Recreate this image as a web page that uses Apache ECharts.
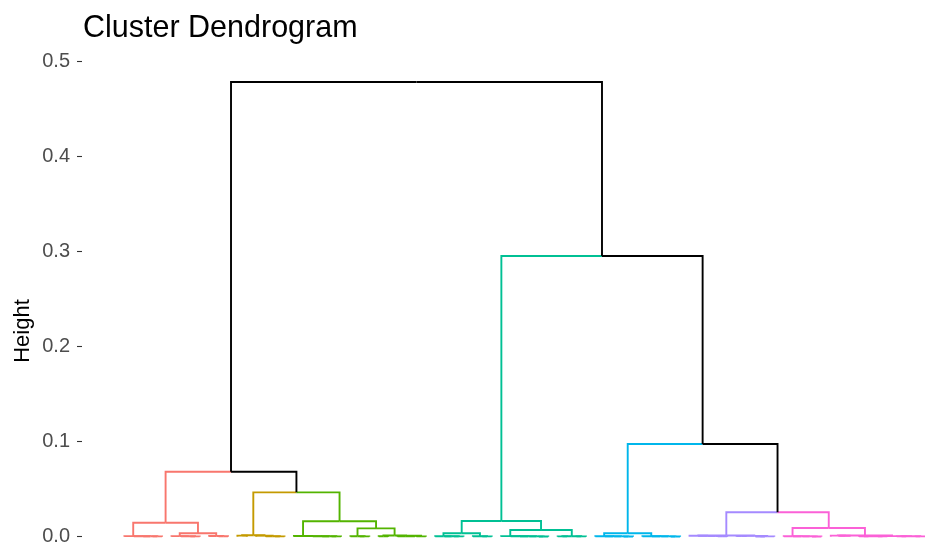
<!DOCTYPE html>
<html>
<head>
<meta charset="utf-8">
<script src="https://cdn.jsdelivr.net/npm/echarts@6/dist/echarts.min.js"></script>
<style>
  html, body { margin: 0; padding: 0; background: #ffffff; }
  #chart { width: 925px; height: 545px; }
</style>
</head>
<body>
<div id="chart"></div>
<script>
// ---- Data: dendrogram nodes as [height, leftChild, rightChild]; null = leaf ----
const redTree = [0.0147,
  [0.0006, null, [0.0005, null, [0.0004, null, [0.0003, null, null]]]],
  [0.0036,
    [0.0006, null, [0.0004, null, [0.0003, null, null]]],
    [0.0008, null, [0.0005, null, null]]]];
const yellowTree = [0.0015,
  [0.0011, null, null],
  [0.0011, null, [0.0005, null, [0.0003, null, null]]]];
const greenTree = [0.0162,
  [0.0008, null, [0.0006, null, [0.0005, null, [0.0004, null, [0.0003, null, null]]]]],
  [0.0088,
    [0.0005, null, [0.0003, null, null]],
    [0.0013, [0.0004, null, null], [0.0004, null, [0.0010, null, [0.0003, null, null]]]]]];
const tealTree = [0.0165,
  [0.0036,
    [0.0005, null, [0.0004, null, [0.0003, null, null]]],
    [0.0005, null, [0.0003, null, null]]],
  [0.0070,
    [0.0006, null, [0.0005, null, [0.0004, null, [0.0003, null, [0.0002, null, null]]]]],
    [0.0005, [0.0003, null, null], [0.0003, null, null]]]];
const cyanTree = [0.0036,
  [0.0005, null, [0.0004, null, [0.0003, null, [0.0002, null, null]]]],
  [0.0005, null, [0.0004, null, [0.0003, null, [0.0002, null, null]]]]];
const purpleTree = [0.0012,
  [0.0010, null, [0.0009, null, [0.0008, null, [0.0003, null, null]]]],
  [0.0009, [0.0008, null, null], [0.0003, [0.0002, null, null], null]]];
const pinkTree = [0.0092,
  [0.0005, null, [0.0004, null, [0.0003, null, [0.0002, null, null]]]],
  [0.0012,
    [0.0011, null, [0.0010, null, null]],
    [0.0006,
      [0.0004, [0.0003, null, null], [0.0003, null, null]],
      [0.0004, [0.0003, null, null], [0.0003, null, null]]]]];

// top-level merges: numbers refer to cluster index in clusterTrees
const clusterTrees = [redTree, yellowTree, greenTree, tealTree, cyanTree, purpleTree, pinkTree];
const clusterColors = ['#F8766D', '#C49A00', '#53B400', '#00C094', '#00B6EB', '#A58AFF', '#FB61D7'];
const topTree = [0.4786,
  [0.0684, 0, [0.0467, 1, 2]],
  [0.2955, 3, [0.0976, 4, [0.0257, 5, 6]]]];
const yTicks = [0, 0.1, 0.2, 0.3, 0.4, 0.5];

// ---- Build segments (leaf order positions 1..n, node x = midpoint of children) ----
let leafCount = 0;
const segs = [];
function walk(node, color) {
  if (node === null) { leafCount += 1; return { x: leafCount, h: 0, color: color }; }
  if (typeof node === 'number') return walk(clusterTrees[node], node);
  const h = node[0];
  const kids = [walk(node[1], color), walk(node[2], color)];
  const x = (kids[0].x + kids[1].x) / 2;
  kids.forEach(k => segs.push([x, h, k.x, h, k.x, k.h, k.color]));
  return { x: x, h: h, color: color };
}
walk(topTree, -1);

const chart = echarts.init(document.getElementById('chart'), null, { renderer: 'canvas' });
const FONT = 'Liberation Sans, Arial, sans-serif';
chart.setOption({
  backgroundColor: '#ffffff',
  animation: false,
  title: {
    text: 'Cluster Dendrogram',
    left: 83, top: 13, padding: 0,
    textStyle: { fontFamily: FONT, fontSize: 30.5, fontWeight: 'normal', color: '#000000' }
  },
  grid: { left: 82, right: 0, top: 61.7, bottom: 8.3, containLabel: false, outerBoundsMode: 'none' },
  xAxis: { type: 'value', min: -3.5, max: 86, show: false },
  yAxis: {
    type: 'value', min: yTicks[0], max: yTicks[yTicks.length - 1], interval: 0.1,
    axisLine: { show: false, onZero: false },
    axisTick: { show: true, length: 5, lineStyle: { color: '#333333', width: 1.1 } },
    splitLine: { show: false },
    axisLabel: {
      margin: 12, fontFamily: FONT, fontSize: 20, color: '#4D4D4D',
      formatter: v => v.toFixed(1)
    }
  },
  graphic: [{
    type: 'text', x: 22.5, y: 331, rotation: Math.PI / 2,
    style: { text: 'Height', fontFamily: FONT, fontSize: 22, fill: '#000000', align: 'center', verticalAlign: 'middle' }
  }],
  series: [{
    type: 'custom',
    coordinateSystem: 'cartesian2d',
    silent: true,
    data: segs,
    encode: { x: [0, 2, 4], y: [1, 3, 5] },
    renderItem: function (params, api) {
      const p1 = api.coord([api.value(0), api.value(1)]);
      const p2 = api.coord([api.value(2), api.value(3)]);
      const p3 = api.coord([api.value(4), api.value(5)]);
      const ci = api.value(6);
      return {
        type: 'polyline',
        shape: { points: [p1, p2, p3] },
        style: { stroke: ci < 0 ? '#000000' : clusterColors[ci], fill: null, lineWidth: 1.9 }
      };
    }
  }]
});
</script>
</body>
</html>
